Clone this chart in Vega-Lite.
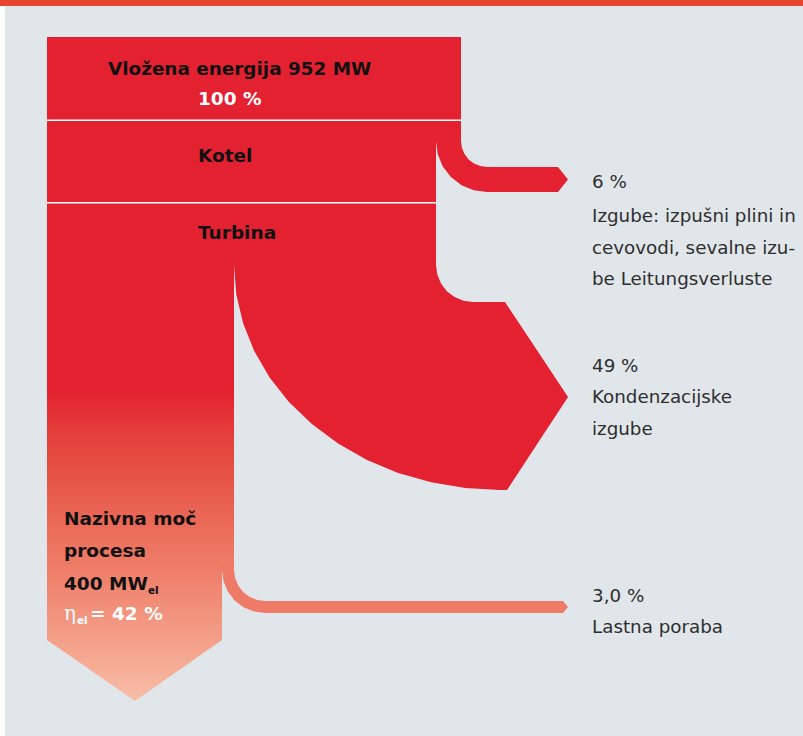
{
  "$schema": "https://vega.github.io/schema/vega-lite/v6.json",
  "width": 803,
  "height": 736,
  "padding": 0,
  "autosize": {"type": "fit", "contains": "padding"},
  "background": "#ffffff",
  "config": {"view": {"stroke": null}},
  "projection": {"type": "identity", "scale": 1, "translate": [0, 0]},
  "layer": [
    {
      "data": {"values": [
        {"type": "Feature", "properties": {"part": "page"}, "geometry": {"type": "Polygon", "coordinates": [[[0,0],[803,0],[803,736],[0,736],[0,0]]]}},
        {"type": "Feature", "properties": {"part": "panel"}, "geometry": {"type": "Polygon", "coordinates": [[[5,6],[803,6],[803,736],[5,736],[5,6]]]}},
        {"type": "Feature", "properties": {"part": "stripe"}, "geometry": {"type": "Polygon", "coordinates": [[[0,0],[803,0],[803,6],[0,6],[0,0]]]}},
        {"type": "Feature", "properties": {"part": "flow"}, "geometry": {"type": "Polygon", "coordinates": [[[47,37],[461,37],[461,139],[47,139],[47,37]]]}},
        {"type": "Feature", "properties": {"part": "flow"}, "geometry": {"type": "Polygon", "coordinates": [[[47,138],[436,138],[436,266],[47,266],[47,138]]]}},
        {"type": "Feature", "properties": {"part": "flow"}, "geometry": {"type": "Polygon", "coordinates": [[[436,130],[461,130],[461,141],[461.9,147.7],[464.5,154],[468.6,159.4],[474,163.5],[480.3,166.1],[487,167],[558,167],[568,179.5],[558,192],[487,192],[473.8,190.3],[461.5,185.2],[450.9,177.1],[442.8,166.5],[437.7,154.2],[436,141],[436,130]]]}},
        {"type": "Feature", "properties": {"part": "flow"}, "geometry": {"type": "Polygon", "coordinates": [[[234,250],[436,250],[436,265],[437.3,274.6],[441,283.5],[446.8,291.2],[454.5,297],[463.4,300.7],[473,302],[505,302],[568,397],[507,490],[500,490],[465.3,488.1],[431.2,482.3],[398.2,472.9],[367,459.9],[338.1,443.5],[311.9,424.1],[288.9,402],[269.6,377.5],[254.2,351.1],[243.1,323.2],[236.3,294.4],[234,265],[234,250]]]}}
      ]},
      "mark": {"type": "geoshape", "strokeWidth": 0},
      "encoding": {
        "color": {"field": "properties.part", "type": "nominal", "legend": null,
          "scale": {"domain": ["page", "panel", "stripe", "flow"], "range": ["#ffffff", "#e1e6ea", "#e8442f", "#e32130"]}}
      }
    },
    {
      "data": {"values": [
        {"type": "Feature", "properties": {"part": "output"}, "geometry": {"type": "Polygon", "coordinates": [[[47,264],[234,264],[234,572],[222,572],[222,640],[135,701],[47,640],[47,264]]]}}
      ]},
      "mark": {"type": "geoshape", "strokeWidth": 0,
        "fill": {"gradient": "linear", "x1": 0, "y1": 0, "x2": 0, "y2": 1, "stops": [
          {"offset": 0, "color": "#e32130"},
          {"offset": 0.288, "color": "#e32130"},
          {"offset": 0.396, "color": "#e5403c"},
          {"offset": 0.501, "color": "#e75648"},
          {"offset": 0.597, "color": "#eb6b58"},
          {"offset": 0.7, "color": "#ef7e69"},
          {"offset": 0.815, "color": "#f29680"},
          {"offset": 0.906, "color": "#f5a992"},
          {"offset": 1, "color": "#f8bea8"}
        ]}}
    },
    {
      "data": {"values": [
        {"type": "Feature", "properties": {"part": "own"}, "geometry": {"type": "Polygon", "coordinates": [[[222,560],[234,560],[234,570],[235.1,578],[238.2,585.5],[243.1,591.9],[249.5,596.8],[257,600],[265,601],[563,601],[568,607],[563,613],[265,613],[253.9,611.5],[243.5,607.2],[234.6,600.4],[227.8,591.5],[223.5,581.1],[222,570],[222,560]]]}}
      ]},
      "mark": {"type": "geoshape", "strokeWidth": 0, "fill": "#f07a68"}
    },
    {
      "data": {"values": [
        {"x": 47, "x2": 461, "y": 120.3},
        {"x": 47, "x2": 436, "y": 202.7}
      ]},
      "mark": {"type": "rule", "color": "#ffffff", "strokeWidth": 1.5},
      "encoding": {
        "x": {"field": "x", "type": "quantitative", "axis": null, "scale": {"domain": [0, 803], "nice": false, "zero": false}},
        "x2": {"field": "x2"},
        "y": {"field": "y", "type": "quantitative", "axis": null, "scale": {"domain": [0, 736], "nice": false, "zero": false, "reverse": true}}
      }
    },
    {
      "data": {"values": [
        {"t": "Vložena energija 952 MW", "x": 108, "y": 75}
      ]},
      "mark": {"type": "text", "align": "left", "baseline": "alphabetic", "font": "DejaVu Sans", "fontWeight": "bold", "fontSize": 18.4, "color": "#111111"},
      "encoding": {
        "x": {"field": "x", "type": "quantitative", "axis": null, "scale": {"domain": [0, 803], "nice": false, "zero": false}},
        "y": {"field": "y", "type": "quantitative", "axis": null, "scale": {"domain": [0, 736], "nice": false, "zero": false, "reverse": true}},
        "text": {"field": "t"}
      }
    },
    {
      "data": {"values": [
        {"t": "Kotel", "x": 198, "y": 162},
        {"t": "Turbina", "x": 198, "y": 239},
        {"t": "Nazivna moč", "x": 64, "y": 525},
        {"t": "procesa", "x": 64, "y": 557},
        {"t": "400 MW", "x": 64, "y": 590}
      ]},
      "mark": {"type": "text", "align": "left", "baseline": "alphabetic", "font": "DejaVu Sans", "fontWeight": "bold", "fontSize": 18.5, "color": "#111111"},
      "encoding": {
        "x": {"field": "x", "type": "quantitative", "axis": null, "scale": {"domain": [0, 803], "nice": false, "zero": false}},
        "y": {"field": "y", "type": "quantitative", "axis": null, "scale": {"domain": [0, 736], "nice": false, "zero": false, "reverse": true}},
        "text": {"field": "t"}
      }
    },
    {
      "data": {"values": [
        {"t": "100 %", "x": 198, "y": 105},
        {"t": "= 42 %", "x": 90, "y": 620}
      ]},
      "mark": {"type": "text", "align": "left", "baseline": "alphabetic", "font": "DejaVu Sans", "fontWeight": "bold", "fontSize": 18.5, "color": "#ffffff"},
      "encoding": {
        "x": {"field": "x", "type": "quantitative", "axis": null, "scale": {"domain": [0, 803], "nice": false, "zero": false}},
        "y": {"field": "y", "type": "quantitative", "axis": null, "scale": {"domain": [0, 736], "nice": false, "zero": false, "reverse": true}},
        "text": {"field": "t"}
      }
    },
    {
      "data": {"values": [
        {"t": "el", "x": 148, "y": 594}
      ]},
      "mark": {"type": "text", "align": "left", "baseline": "alphabetic", "font": "DejaVu Sans", "fontWeight": "bold", "fontSize": 10.5, "color": "#111111"},
      "encoding": {
        "x": {"field": "x", "type": "quantitative", "axis": null, "scale": {"domain": [0, 803], "nice": false, "zero": false}},
        "y": {"field": "y", "type": "quantitative", "axis": null, "scale": {"domain": [0, 736], "nice": false, "zero": false, "reverse": true}},
        "text": {"field": "t"}
      }
    },
    {
      "data": {"values": [
        {"t": "el", "x": 77, "y": 624}
      ]},
      "mark": {"type": "text", "align": "left", "baseline": "alphabetic", "font": "DejaVu Sans", "fontWeight": "bold", "fontSize": 10.5, "color": "#ffffff"},
      "encoding": {
        "x": {"field": "x", "type": "quantitative", "axis": null, "scale": {"domain": [0, 803], "nice": false, "zero": false}},
        "y": {"field": "y", "type": "quantitative", "axis": null, "scale": {"domain": [0, 736], "nice": false, "zero": false, "reverse": true}},
        "text": {"field": "t"}
      }
    },
    {
      "data": {"values": [
        {"t": "η", "x": 64, "y": 620}
      ]},
      "mark": {"type": "text", "align": "left", "baseline": "alphabetic", "font": "DejaVu Serif", "fontSize": 20, "color": "#ffffff"},
      "encoding": {
        "x": {"field": "x", "type": "quantitative", "axis": null, "scale": {"domain": [0, 803], "nice": false, "zero": false}},
        "y": {"field": "y", "type": "quantitative", "axis": null, "scale": {"domain": [0, 736], "nice": false, "zero": false, "reverse": true}},
        "text": {"field": "t"}
      }
    },
    {
      "data": {"values": [
        {"t": "6 %", "x": 592, "y": 188},
        {"t": "Izgube: izpušni plini in", "x": 592, "y": 222},
        {"t": "cevovodi, sevalne izu-", "x": 592, "y": 254},
        {"t": "be Leitungsverluste", "x": 592, "y": 285},
        {"t": "49 %", "x": 592, "y": 372},
        {"t": "Kondenzacijske", "x": 592, "y": 403},
        {"t": "izgube", "x": 592, "y": 435},
        {"t": "3,0 %", "x": 592, "y": 602},
        {"t": "Lastna poraba", "x": 592, "y": 633}
      ]},
      "mark": {"type": "text", "align": "left", "baseline": "alphabetic", "font": "DejaVu Sans", "fontWeight": "normal", "fontSize": 18.3, "color": "#2e2e2e"},
      "encoding": {
        "x": {"field": "x", "type": "quantitative", "axis": null, "scale": {"domain": [0, 803], "nice": false, "zero": false}},
        "y": {"field": "y", "type": "quantitative", "axis": null, "scale": {"domain": [0, 736], "nice": false, "zero": false, "reverse": true}},
        "text": {"field": "t"}
      }
    }
  ]
}
